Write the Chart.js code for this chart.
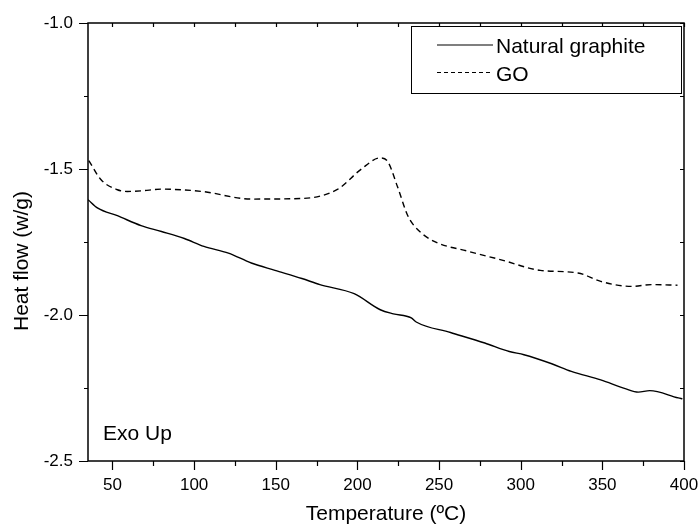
<!DOCTYPE html>
<html>
<head>
<meta charset="utf-8">
<script src="https://cdn.jsdelivr.net/npm/chart.js@4/dist/chart.umd.min.js"></script>
<style>
  html, body { margin: 0; padding: 0; background: #fff; }
  #wrap { width: 699px; height: 527px; }
</style>
</head>
<body>
<div id="wrap"><canvas id="dscChart" width="699" height="527"></canvas></div>
<script>
// DSC curves
const graphiteTemp = [35, 41, 53, 67.5, 80, 94, 106, 121, 135, 149.5, 166, 177, 198, 214, 222, 233, 236, 257, 278, 293, 302, 319, 331, 349, 364, 372, 379, 396.5, 399];
const graphiteFlow = [-1.605, -1.634, -1.66, -1.694, -1.714, -1.738, -1.765, -1.788, -1.822, -1.847, -1.875, -1.896, -1.927, -1.982, -1.996, -2.01, -2.024, -2.06, -2.096, -2.125, -2.136, -2.167, -2.193, -2.222, -2.252, -2.264, -2.259, -2.284, -2.287];

const goTemp = [35.5, 43, 53, 59, 67.5, 80, 105, 135, 166, 188, 202, 214, 218.5, 224.5, 231, 237, 247, 268, 288, 312, 335, 349, 368, 380, 396];
const goFlow = [-1.471, -1.537, -1.571, -1.577, -1.575, -1.569, -1.577, -1.603, -1.601, -1.569, -1.502, -1.462, -1.474, -1.56, -1.662, -1.708, -1.748, -1.782, -1.811, -1.847, -1.856, -1.885, -1.902, -1.896, -1.898];

const xTickValues = [50, 75, 100, 125, 150, 175, 200, 225, 250, 275, 300, 325, 350, 375, 400];

const seriesLabels = ["Natural graphite", "GO"];
const xTitle = "Temperature (\u00BAC)";
const yTitle = "Heat flow (w/g)";
const note = "Exo Up";

const FONT = "'Liberation Sans', Arial, sans-serif";

function toPoints(xs, ys){
  const pts = [];
  xs.forEach((x, i)=>{
    pts.push({x: x, y: ys[i]});
  })
  return pts;
}

// frame, tick marks, legend box, y title and note
const decorations = {
  id: 'decorations',
  afterDraw(chart){
    const ctx = chart.ctx;
    const area = chart.chartArea;
    const xs = chart.scales.x;
    const ys = chart.scales.y;
    ctx.save();
    ctx.strokeStyle = '#000';
    ctx.lineWidth = 1.5;
    ctx.strokeRect(area.left, area.top, area.right - area.left, area.bottom - area.top);

    ctx.lineWidth = 1.2;
    ctx.beginPath();
    xs.ticks.forEach((t)=>{
      const px = Math.round(xs.getPixelForValue(t.value)) + 0.5;
      const major = t.value % 50 === 0;
      ctx.moveTo(px, area.bottom);
      ctx.lineTo(px, area.bottom + (major ? 9 : 5));
      ctx.moveTo(px, area.top);
      ctx.lineTo(px, area.top + 4);
    })
    ys.ticks.forEach((t)=>{
      const py = Math.round(ys.getPixelForValue(t.value)) + 0.5;
      const major = Math.abs(Math.round(t.value * 2) - t.value * 2) < 1e-6;
      ctx.moveTo(area.left, py);
      ctx.lineTo(area.left - (major ? 9 : 4), py);
      ctx.moveTo(area.right, py);
      ctx.lineTo(area.right - 4, py);
    })
    ctx.stroke();

    // legend
    const lx = area.right - 273, ly = area.top + 3;
    ctx.lineWidth = 1;
    ctx.strokeRect(lx + 0.5, ly + 0.5, 270, 67);
    ctx.font = '21px ' + FONT;
    ctx.fillStyle = '#000';
    ctx.textBaseline = 'alphabetic';
    chart.data.datasets.forEach((ds, i)=>{
      const yy = ly + 19 + i * 27.5;
      ctx.beginPath();
      ctx.setLineDash(i === 0 ? [] : [4, 3]);
      ctx.lineWidth = 1.2;
      ctx.strokeStyle = ds.borderColor;
      ctx.moveTo(lx + 26, yy);
      ctx.lineTo(lx + 82, yy);
      ctx.stroke();
      ctx.setLineDash([]);
      ctx.fillText(ds.label, lx + 85, yy + 8);
    })

    // note
    ctx.textAlign = 'left';
    ctx.fillText(note, area.left + 15, area.bottom - 21);

    // y title
    ctx.translate(22, 261);
    ctx.rotate(-Math.PI / 2);
    ctx.textAlign = 'center';
    ctx.textBaseline = 'middle';
    ctx.fillText(yTitle, 0, 0);
    ctx.restore();
  }
};

const ctx = document.getElementById('dscChart').getContext('2d');
const chart = new Chart(ctx, {
  type: 'line',
  data: {
    datasets: [{
      label: seriesLabels[0],
      data: toPoints(graphiteTemp, graphiteFlow),
      borderColor: '#000',
      borderWidth: 1.4,
      pointRadius: 0,
      fill: false,
      cubicInterpolationMode: 'monotone'
    }, {
      label: seriesLabels[1],
      data: toPoints(goTemp, goFlow),
      borderColor: '#000',
      borderWidth: 1.4,
      borderDash: [6, 4],
      pointRadius: 0,
      fill: false,
      cubicInterpolationMode: 'monotone'
    }]
  },
  options: {
    responsive: false,
    animation: false,
    layout: { padding: { left: 0, top: 23, right: 15, bottom: 0 } },
    plugins: {
      legend: { display: false },
      tooltip: { enabled: false }
    },
    scales: {
      x: {
        type: 'linear',
        min: 35,
        max: 400,
        grid: { display: false, drawTicks: false },
        border: { display: false },
        afterBuildTicks: (scale)=>{
          scale.ticks = xTickValues.map((v)=>({value: v}));
        },
        afterFit: (scale)=>{
          scale.height = 66;
          scale.paddingLeft = 0;
          scale.paddingRight = 0;
        },
        ticks: {
          padding: 14,
          maxRotation: 0,
          autoSkip: false,
          color: '#000',
          font: { family: FONT, size: 17 },
          callback: (v)=> v % 50 === 0 ? String(v) : ''
        },
        title: {
          display: true,
          text: xTitle,
          color: '#000',
          font: { family: FONT, size: 21 },
          padding: { top: 4, bottom: 0 }
        }
      },
      y: {
        min: -2.5,
        max: -1.0,
        grid: { display: false, drawTicks: false },
        border: { display: false },
        afterFit: (scale)=>{
          scale.width = 88;
          scale.paddingTop = 0;
          scale.paddingBottom = 0;
        },
        ticks: {
          stepSize: 0.25,
          padding: 15,
          autoSkip: false,
          color: '#000',
          font: { family: FONT, size: 17 },
          callback: (v)=> Math.abs(v * 2 - Math.round(v * 2)) < 1e-6 ? v.toFixed(1) : ''
        }
      }
    }
  },
  plugins: [decorations]
});
</script>
</body>
</html>
